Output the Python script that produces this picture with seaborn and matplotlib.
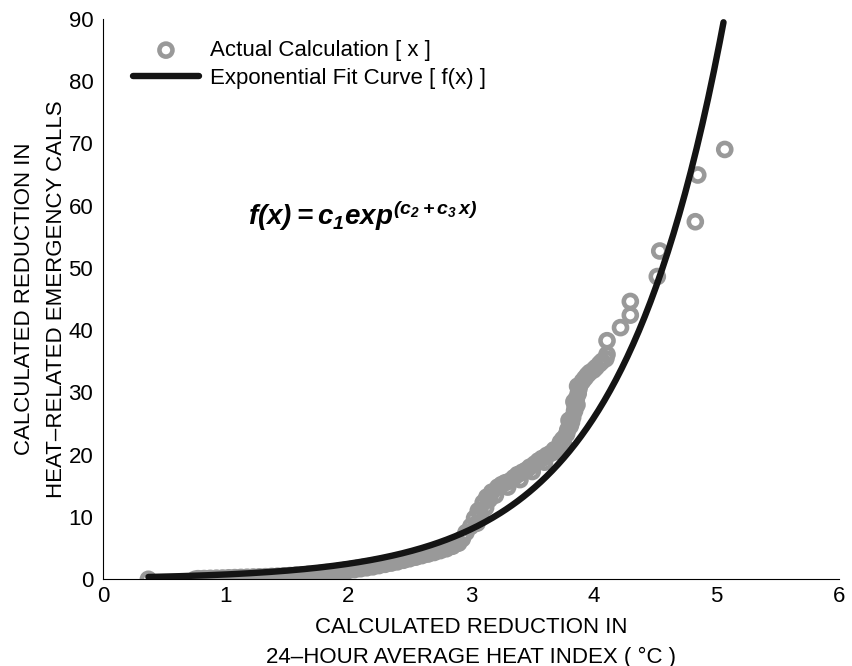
import numpy as np
import pandas as pd
import matplotlib
matplotlib.use("Agg")
import matplotlib.pyplot as plt
import seaborn as sns

# Observed reductions: heat-index reduction (deg C) vs. reduction in calls
heat_index_reduction = [
    0.37,
    0.750, 0.775, 0.800, 0.825, 0.850, 0.875, 0.900, 0.925, 0.950, 0.975,
    1.000, 1.025, 1.050, 1.075, 1.100, 1.125, 1.150, 1.175, 1.200, 1.225,
    1.250, 1.275, 1.300, 1.325, 1.350, 1.375, 1.400, 1.425, 1.450, 1.475,
    1.500, 1.525, 1.550, 1.575, 1.600, 1.625, 1.650, 1.675, 1.700, 1.725,
    1.750, 1.775, 1.800, 1.825, 1.850, 1.875, 1.900, 1.925, 1.950, 1.975,
    2.000, 2.025, 2.050, 2.075, 2.100, 2.125, 2.150, 2.175, 2.200, 2.225,
    2.250, 2.275, 2.300, 2.325, 2.350, 2.375, 2.400, 2.425, 2.450, 2.475,
    2.500, 2.525, 2.550, 2.575, 2.600, 2.625, 2.650, 2.675, 2.700, 2.725,
    2.750, 2.775, 2.800, 2.825, 2.850, 2.875, 2.900,
    2.93, 2.96, 3.00, 3.03, 3.05, 3.06, 3.08, 3.10, 3.12, 3.13,
    3.15, 3.17, 3.20, 3.22, 3.25, 3.28, 3.30, 3.32, 3.35, 3.38,
    3.40, 3.42, 3.45, 3.48, 3.50, 3.52, 3.55, 3.58, 3.60, 3.62,
    3.65, 3.68, 3.70, 3.72, 3.73, 3.75, 3.76, 3.78, 3.79, 3.80,
    3.81, 3.82, 3.83, 3.84, 3.845, 3.85, 3.86, 3.865, 3.87, 3.875,
    3.88, 3.89, 3.91, 3.93, 3.95, 3.97, 4.00, 4.02, 4.05, 4.07,
    4.10, 4.11, 4.11, 4.22, 4.30, 4.30, 4.52, 4.54, 4.83, 4.85,
    5.07,
]
calls_reduction = [
    0.0,
    0.00, 0.10, 0.02, 0.12, 0.04, 0.15, 0.05, 0.18, 0.07, 0.20,
    0.10, 0.24, 0.12, 0.27, 0.15, 0.30, 0.17, 0.33, 0.20, 0.36,
    0.22, 0.39, 0.25, 0.42, 0.28, 0.46, 0.30, 0.50, 0.34, 0.55,
    0.40, 0.60, 0.45, 0.66, 0.50, 0.72, 0.57, 0.80, 0.65, 0.88,
    0.75, 0.97, 0.85, 1.08, 0.97, 1.20, 1.10, 1.33, 1.25, 1.48,
    1.40, 1.62, 1.55, 1.78, 1.70, 1.93, 1.85, 2.08, 2.00, 2.25,
    2.20, 2.45, 2.40, 2.65, 2.60, 2.85, 2.80, 3.05, 3.05, 3.30,
    3.30, 3.55, 3.55, 3.80, 3.80, 4.05, 4.05, 4.30, 4.30, 4.60,
    4.60, 4.90, 4.90, 5.25, 5.30, 5.70, 5.80,
    6.5, 7.5, 8.5, 9.8, 9.0, 11.0, 10.5, 12.3, 11.5, 13.2,
    12.8, 14.0, 13.5, 14.8, 15.2, 15.5, 14.8, 15.8, 16.3, 16.8,
    16.0, 17.2, 17.5, 18.0, 17.3, 18.5, 19.0, 19.4, 18.8, 19.9,
    20.2, 20.8, 20.5, 21.2, 22.0, 22.5, 21.5, 23.3, 24.0, 25.5,
    24.6, 25.2, 26.0, 28.5, 27.0, 27.5, 29.0, 28.0, 31.0, 29.8,
    30.5, 31.2, 31.8, 32.3, 32.8, 33.2, 33.6, 34.0, 34.6, 35.0,
    35.4, 36.1, 38.3, 40.4, 42.4, 44.6, 48.6, 52.7, 57.4, 64.9,
    69.0,
]

# Exponential fit f(x) = c1 * exp(c2 + c3 * x)
c1, c2, c3 = 2.0, -2.12, 1.17
fit_x_range = [0.37, 5.06]

obs = pd.DataFrame({"x": heat_index_reduction, "y": calls_reduction})
xf = np.linspace(fit_x_range[0], fit_x_range[1], 300)
fit = pd.DataFrame({"x": xf, "y": c1 * np.exp(c2 + c3 * xf)})

sns.set_theme(style="white")
plt.rcParams["font.family"] = ["Liberation Sans", "DejaVu Sans"]
plt.rcParams["text.color"] = "black"
plt.rcParams["axes.labelcolor"] = "black"
plt.rcParams["xtick.color"] = "black"
plt.rcParams["ytick.color"] = "black"
plt.rcParams["mathtext.fontset"] = "custom"
plt.rcParams["mathtext.rm"] = "Liberation Sans:italic:bold"
plt.rcParams["mathtext.it"] = "Liberation Sans:italic:bold"
plt.rcParams["mathtext.bf"] = "Liberation Sans:italic:bold"

fig = plt.figure(figsize=(8.52, 6.66), dpi=100)
ax = fig.add_axes([0.1209, 0.1302, 0.8636, 0.8418])

sns.scatterplot(data=obs, x="x", y="y", ax=ax, s=88, marker="o",
                facecolors="none", edgecolor="#999999", linewidths=3.3,
                label="Actual Calculation [ x ]", zorder=2)
sns.lineplot(data=fit, x="x", y="y", ax=ax, color="#141414", linewidth=4.6,
             label="Exponential Fit Curve [ f(x) ]", zorder=3)

ax.set_xlim(0, 6)
ax.set_ylim(0, 90)
ax.set_xticks(range(0, 7))
ax.set_yticks(range(0, 91, 10))

for side in ("top", "right"):
    ax.spines[side].set_visible(False)
for side in ("left", "bottom"):
    ax.spines[side].set_color("black")
    ax.spines[side].set_linewidth(0.8)
ax.tick_params(direction="in", length=5.4, width=0.8, colors="black",
               labelsize=16)
ax.tick_params(axis="x", pad=5)
ax.tick_params(axis="y", pad=7)

ax.set_xlabel("CALCULATED REDUCTION IN\n24\u2013HOUR AVERAGE HEAT INDEX ( \u00b0C )",
              fontsize=16, linespacing=1.5)
ax.set_ylabel("CALCULATED REDUCTION IN\nHEAT\u2013RELATED EMERGENCY CALLS",
              fontsize=16, linespacing=1.65)
ax.xaxis.set_label_coords(0.5, -0.068)
ax.yaxis.set_label_coords(-0.0493, 0.5)

ax.text(1.18, 58.3, r"$f(x) = c_1 exp^{(c_2 + c_3\, x)}$", fontsize=20,
        ha="left", va="center", color="black")

leg = ax.legend(loc="upper left", bbox_to_anchor=(0.041, 0.962),
                frameon=False, fontsize=16, handlelength=2.95,
                handletextpad=0.5, borderpad=0, borderaxespad=0,
                labelspacing=0.3)

fig.savefig("out.png", dpi=100)
